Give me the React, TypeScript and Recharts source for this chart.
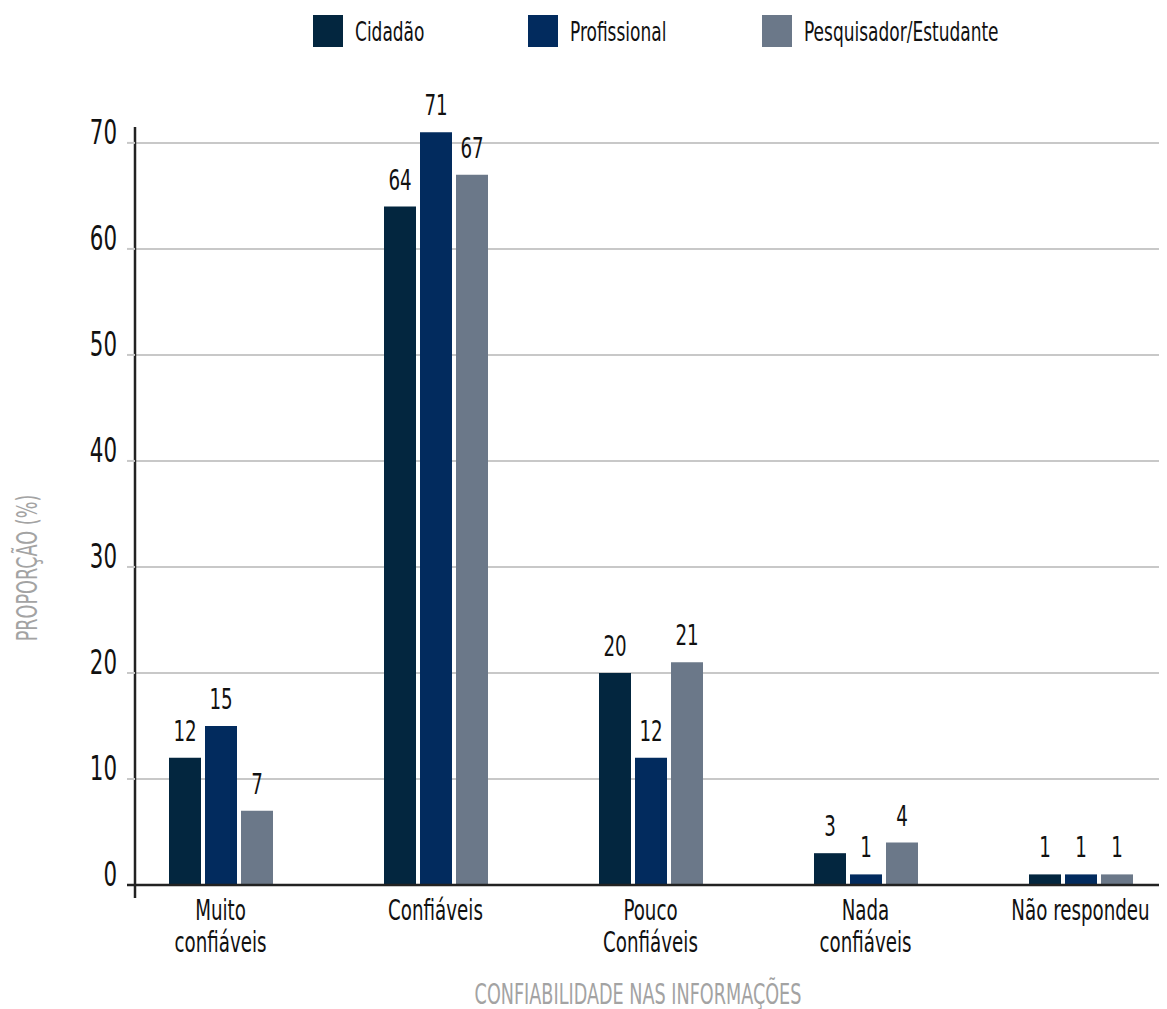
import React from 'react';
import { BarChart, Bar, XAxis, YAxis, CartesianGrid, LabelList } from 'recharts';

// Categories and series values (%)
const categories = ['Muito\nconfiáveis', 'Confiáveis', 'Pouco\nConfiáveis', 'Nada\nconfiáveis', 'Não respondeu'];
const cidadao = [12, 64, 20, 3, 1];
const profissional = [15, 71, 12, 1, 1];
const pesquisador = [7, 67, 21, 4, 1];
const yTicks = [0, 10, 20, 30, 40, 50, 60, 70];

const series = [
  { key: 'cidadao', name: 'Cidadão', color: '#03263f' },
  { key: 'profissional', name: 'Profissional', color: '#022b5e' },
  { key: 'pesquisador', name: 'Pesquisador/Estudante', color: '#6b7889' },
];

const data = categories.map((c, i) => ({
  category: c,
  cidadao: cidadao[i],
  profissional: profissional[i],
  pesquisador: pesquisador[i],
}));

const FONT = '"DejaVu Sans Condensed", "DejaVu Sans", sans-serif';
// horizontal squeeze to get a narrow, tall letterform
const SQUEEZE = 0.7;
// legend item widths (swatch + label + spacing)
const legendWidths = [215, 234, 260];

const Squeezed = ({ x, y, size, anchor = 'middle', fill = '#111', children }: any) => (
  <text
    transform={`translate(${x},${y}) scale(${SQUEEZE},1)`}
    textAnchor={anchor}
    fill={fill}
    fontSize={size}
    fontFamily={FONT}
  >
    {children}
  </text>
);

const CategoryTick = ({ x, y, payload }: any) => {
  const lines = String(payload.value).split('\n');
  return (
    <g>
      {lines.map((l, i) => (
        <Squeezed key={i} x={x} y={y + 27 + i * 32} size={29}>{l}</Squeezed>
      ))}
    </g>
  );
};

const ValueTick = ({ x, y, payload }: any) => (
  <Squeezed x={x} y={y + 1} size={34} anchor="end">{payload.value}</Squeezed>
);

const BarValue = ({ x, y, width, value }: any) => (
  <Squeezed x={x + width / 2} y={y - 17} size={29}>{value}</Squeezed>
);

export default function App() {
  return (
    <div style={{ position: 'relative', width: 1159, height: 1001, overflow: 'hidden', fontFamily: FONT, background: '#fff' }}>
      {/* legend */}
      <div style={{ position: 'absolute', top: 7, left: 305, display: 'flex', alignItems: 'center' }}>
        {series.map((s, i) => (
          <div key={s.key} style={{ display: 'flex', alignItems: 'center', width: legendWidths[i] }}>
            <div style={{ width: 30, height: 32, background: s.color, marginRight: 12, flexShrink: 0 }} />
            <span
              style={{
                fontSize: 27, color: '#111', display: 'inline-block', whiteSpace: 'nowrap',
                transform: `scaleX(${SQUEEZE})`, transformOrigin: 'left center',
              }}
            >
              {s.name}
            </span>
          </div>
        ))}
      </div>

      {/* y axis title */}
      <div
        style={{
          position: 'absolute', left: 19, top: 560,
          transform: `translate(-50%, -50%) rotate(-90deg) scaleX(${SQUEEZE})`,
          fontSize: 28, color: '#a3a3a3', whiteSpace: 'nowrap',
        }}
      >
        PROPORÇÃO (%)
      </div>

      {/* x axis title */}
      <div
        style={{
          position: 'absolute', left: 630, top: 986,
          transform: `translate(-50%, -50%) scaleX(${SQUEEZE})`,
          fontSize: 28, color: '#a3a3a3', whiteSpace: 'nowrap',
        }}
      >
        CONFIABILIDADE NAS INFORMAÇÕES
      </div>

      <div style={{ position: 'absolute', left: 0, top: 0 }}>
        <BarChart
          width={1180}
          height={1000}
          data={data}
          margin={{ top: 119, right: 0, left: 0, bottom: 0 }}
          barSize={32}
          barGap={4}
        >
          <CartesianGrid vertical={false} horizontalValues={yTicks} stroke="#c8c8c8" strokeWidth={2} />
          <XAxis
            dataKey="category"
            height={123}
            padding={{ left: -22, right: 0 }}
            axisLine={{ stroke: '#222', strokeWidth: 2.5 }}
            tickLine={false}
            tick={<CategoryTick />}
            interval={0}
          />
          <YAxis
            width={127}
            domain={[0, 71.5]}
            ticks={yTicks}
            axisLine={{ stroke: '#222', strokeWidth: 2.5 }}
            tickLine={{ stroke: '#c8c8c8', strokeWidth: 2 }}
            tickSize={8}
            tickMargin={10}
            tick={<ValueTick />}
            allowDataOverflow
          />
          {series.map((s) => (
            <Bar key={s.key} dataKey={s.key} name={s.name} fill={s.color} isAnimationActive={false}>
              <LabelList dataKey={s.key} content={<BarValue />} />
            </Bar>
          ))}
        </BarChart>
      </div>

      {/* axis cross below the baseline */}
      <svg style={{ position: 'absolute', left: 0, top: 0, pointerEvents: 'none' }} width={160} height={900}>
        <line x1={127} x2={127} y1={876} y2={890} stroke="#222" strokeWidth={2.5} />
        <line x1={119} x2={127} y1={877} y2={877} stroke="#222" strokeWidth={2.5} />
      </svg>
    </div>
  );
}
